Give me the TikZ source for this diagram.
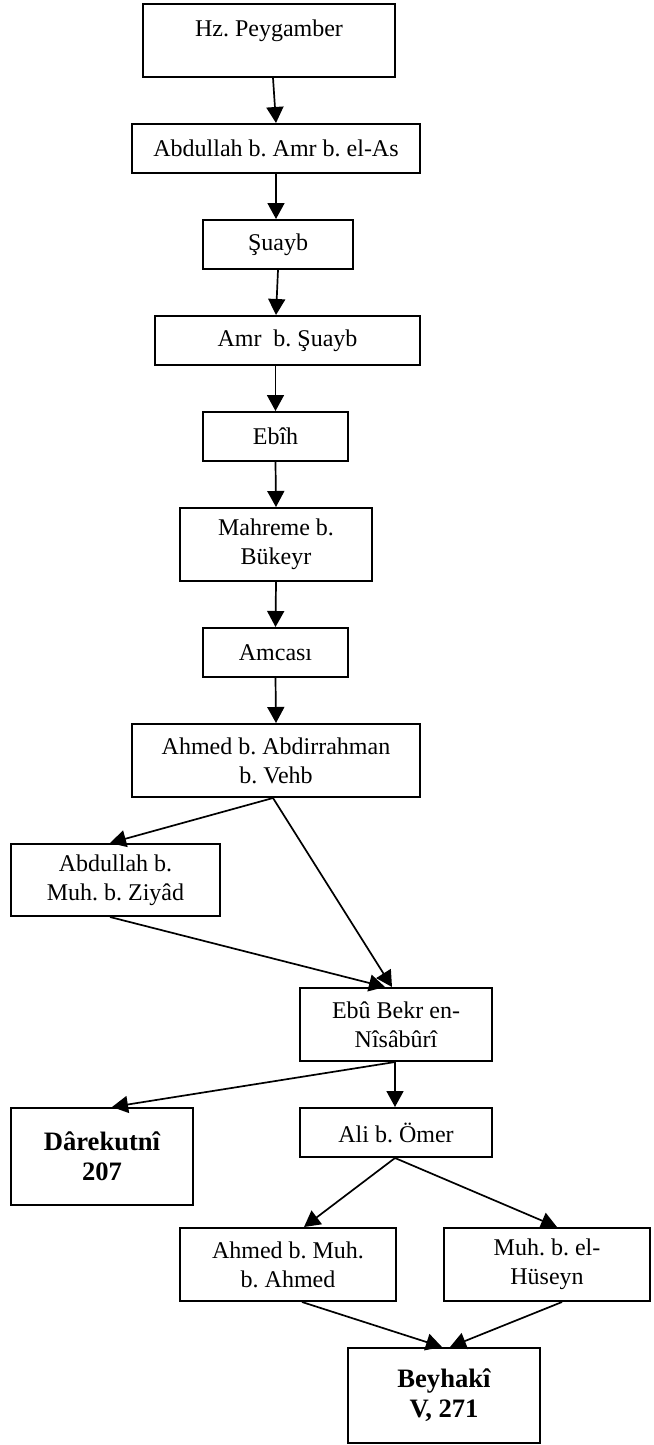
\documentclass[tikz,border=0pt]{standalone}
\usepackage{fontspec}
\setmainfont{Liberation Serif}
\usetikzlibrary{arrows.meta,calc}
\frenchspacing
\begin{document}
\begin{tikzpicture}[x=0.5pt,y=-0.5pt,
 box/.style={draw,line width=1pt,inner sep=0pt,align=center,font=\fontsize{12}{14.5}\selectfont\frenchspacing},
 bbox/.style={box,font=\fontsize{13.3}{15}\selectfont\bfseries\frenchspacing},
 txt/.style={inner sep=0pt,font=\fontsize{12}{14.5}\selectfont\frenchspacing},
 arr/.style={line width=0.85pt,-{Triangle[length=8pt,width=8.5pt]}}]
\useasboundingbox (0,0) rectangle (653,1445);
\fill[white] (0,0) rectangle (653,1445);
\node[box,minimum width=126pt,minimum height=36.5pt] (hz) at (269,40.5) {};
\node[txt] (hzt) at (269,30.5) {Hz. Peygamber};
\node[box,minimum width=144pt,minimum height=24.5pt] (abd) at (276,148.5) {Abdullah b. Amr b. el-As};
\node[box,minimum width=75pt,minimum height=24.5pt] (suayb) at (278,244.5) {Şuayb};
\node[box,minimum width=132.5pt,minimum height=24.5pt] (amr) at (287.5,340.5) {Amr\ \ b. Şuayb};
\node[box,minimum width=72.5pt,minimum height=24.5pt] (ebih) at (275.5,436.5) {Ebîh};
\node[box,minimum width=96pt,minimum height=36.5pt] (mah) at (276,544.5) {Mahreme b.\\Bükeyr};
\node[box,minimum width=72.5pt,minimum height=24.5pt] (amc) at (275.5,652.5) {Amcası};
\node[box,minimum width=144pt,minimum height=36.5pt] (ahv) at (276,760.5) {Ahmed b. Abdirrahman\\b. Vehb};
\node[box,minimum width=104.5pt,minimum height=36pt] (abz) at (115.5,880) {Abdullah b.\\Muh. b. Ziyâd};
\node[box,minimum width=96pt,minimum height=36.5pt] (ebu) at (396,1024.5) {Ebû Bekr en-\\Nîsâbûrî};
\node[bbox,minimum width=91pt,minimum height=48.5pt] (dar) at (102,1156.5) {Dârekutnî\\207};
\node[box,minimum width=96pt,minimum height=24.5pt] (ali) at (396,1132.5) {Ali b. Ömer};
\node[box,minimum width=108pt,minimum height=36.5pt] (ahm) at (288,1264.5) {Ahmed b. Muh.\\b. Ahmed};
\node[box,minimum width=103pt,minimum height=36.5pt] (muh) at (547,1264.5) {Muh. b. el-\\Hüseyn};
\node[bbox,minimum width=96pt,minimum height=47.5pt] (bey) at (444,1395.5) {Beyhakî\\V, 271};
\draw[arr] ($(hz.south)+(4,0)$) -- (abd.north);
\draw[arr] (abd.south) -- (abd.south |- suayb.north);
\draw[arr] (suayb.south) -- ($(amr.north)+(-11.5,0)$);
\draw[arr] (amr.south -| ebih.north) -- (ebih.north);
\draw[arr] (ebih.south) -- (mah.north);
\draw[arr] (mah.south) -- (amc.north);
\draw[arr] (amc.south) -- (ahv.north);
\draw[arr] ($(ahv.south)+(-3,0)$) -- ($(abz.north)+(-5.5,0)$);
\draw[arr] ($(ahv.south)+(-3,0)$) -- ($(ebu.north)+(-4,0)$);
\draw[arr] ($(abz.south)+(-5.5,0)$) -- ($(ebu.north)+(-11,0)$);
\draw[arr] ($(ebu.south)+(-1,0)$) -- ($(dar.north)+(10,0)$);
\draw[arr] ($(ebu.south)+(-1,0)$) -- ($(ali.north)+(-1,0)$);
\draw[arr] ($(ali.south)+(-1,0)$) -- ($(ahm.north)+(16,0)$);
\draw[arr] ($(ali.south)+(-1,0)$) -- ($(muh.north)+(10,0)$);
\draw[arr] ($(ahm.south)+(14,0)$) -- ($(bey.north)+(-2,0)$);
\draw[arr] ($(muh.south)+(15,0)$) -- ($(bey.north)+(6,0)$);
\end{tikzpicture}
\end{document}
